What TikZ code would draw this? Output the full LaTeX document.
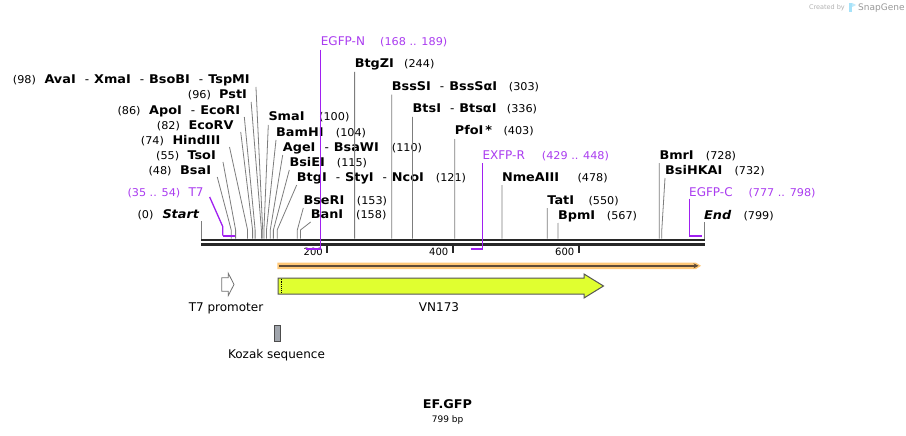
\documentclass[tikz,border=0pt]{standalone}
\usepackage{fontspec}
\setmainfont{DejaVu Sans}[BoldFeatures={FakeStretch=1.07},BoldItalicFeatures={FakeStretch=1.07}]
\newfontfamily\numfam{DejaVu Sans}[FakeStretch=1.05]
\usetikzlibrary{calc,arrows.meta}
\definecolor{primer}{RGB}{160,32,240}
\definecolor{primertxt}{RGB}{170,60,240}
\definecolor{cutline}{RGB}{125,125,125}
\definecolor{bb}{RGB}{40,40,40}
\definecolor{orf}{RGB}{255,200,120}
\definecolor{orfline}{RGB}{95,75,55}
\definecolor{feat}{RGB}{224,255,48}
\definecolor{featedge}{RGB}{85,85,85}
\definecolor{kozak}{RGB}{160,165,172}
\newcommand\fnm{\fontsize{12}{14}\selectfont\bfseries}
\newcommand\fnum{\numfam\fontsize{10.7}{13}\selectfont}
\newcommand\fpr{\fontsize{12}{14}\selectfont}
\newcommand\sepx{\hspace{9pt}{\mdseries-}\hspace{5pt}}
% left-labelled enzyme: id, baseline, num x, num, name x, name, line x-offset, site
\newcommand\enzL[8]{%
  \node[lbl,font=\fnum] (#1n) at (#3,#2) {#4};
  \node[lbl,font=\fnm] (#1) at (#5,#2) {#6};
  \pgfmathsetmacro\sx{201+0.6295*#8}
  \coordinate (#1s) at (\sx,238.7);
  \draw[cut] ($(#1.base east)+(#7,3)$) -- (\sx,230) -- (#1s);
}
% right-labelled enzyme: id, baseline, name x, name, num x, num, site
\newcommand\enzR[7]{%
  \node[lbl,font=\fnm] (#1) at (#3,#2) {#4};
  \node[lbl,font=\fnum] (#1n) at (#5,#2) {#6};
  \pgfmathsetmacro\sx{201+0.6295*#7}
  \coordinate (#1s) at (\sx,238.7);
  \draw[cut] ($(#1.base west)+(0,4)$) -- (\sx,230) -- (#1s);
}
\begin{document}
\begin{tikzpicture}[x=1pt,y=-1pt,
  lbl/.style={inner sep=0pt,anchor=base west},
  cut/.style={draw=cutline,line width=0.8pt},
  prim/.style={draw=primer,line width=1.3pt},
  primbar/.style={draw=primer,line width=2pt},
  bbline/.style={draw=bb,line width=2.6pt},
  tickbar/.style={draw=bb,line width=2pt},
  ticklbl/.style={inner sep=0pt,anchor=base east,font=\fontsize{10}{12}\selectfont},
  featlbl/.style={inner sep=0pt,anchor=base,font=\fontsize{12}{14}\selectfont}]
\fill[white] (0,0) rectangle (906,436);
\useasboundingbox (0,0) rectangle (906,436);

% watermark
\node[inner sep=0pt,anchor=base east,font=\fontsize{6.5}{8}\selectfont,text=black!30] (wm1) at (845,10) {Created by};
\fill[cyan!35] (849,3) rectangle (852,12);
\fill[cyan!25] (852,3) -- (856,5) -- (852,7) -- cycle;
\node[inner sep=0pt,anchor=base west,font=\fontsize{9}{10}\selectfont,text=black!40] (wm2) at (858,11) {SnapGene};

% backbone
\coordinate (bbL1) at (201,240); \coordinate (bbR1) at (705,240);
\coordinate (bbL2) at (201,244.3); \coordinate (bbR2) at (705,244.3);
\draw[bbline] (bbL1) -- (bbR1);
\draw[bbline] (bbL2) -- (bbR2);

% ticks
\coordinate (t200) at (326.9,245); \coordinate (t400) at (452.8,245); \coordinate (t600) at (578.7,245);
\draw[tickbar] (t200) -- ++(0,7.5);
\draw[tickbar] (t400) -- ++(0,7.5);
\draw[tickbar] (t600) -- ++(0,7.5);
\node[ticklbl] (l200) at (323,255) {200};
\node[ticklbl] (l400) at (448.5,255) {400};
\node[ticklbl] (l600) at (574.5,255) {600};

% left-labelled enzymes
\enzL{ava}{84}{12.7}{(98)}{44.3}{AvaI\sepx XmaI\sepx BsoBI\sepx TspMI}{6}{98}
\enzL{pst}{99}{187.7}{(96)}{219}{PstI}{4}{96}
\enzL{apo}{114}{117.3}{(86)}{149}{ApoI\sepx EcoRI}{4}{86}
\enzL{ecorv}{129}{156.7}{(82)}{188.3}{EcoRV}{7}{82}
\enzL{hind}{144}{140.7}{(74)}{172.3}{HindIII}{9}{74}
\enzL{tso}{159}{156}{(55)}{187.3}{TsoI}{7}{55}
\enzL{bsa}{174}{148.3}{(48)}{180}{BsaI}{6}{48}

% right-labelled enzymes
\enzR{sma}{121}{268.3}{SmaI}{319}{(100)}{100}
\enzR{bam}{136}{276}{BamHI}{335.7}{(104)}{104}
\enzR{age}{151}{282.7}{AgeI\sepx BsaWI}{391.7}{(110)}{110}
\enzR{bsie}{166}{289.3}{BsiEI}{336.7}{(115)}{115}
\enzR{btgi}{181}{296.7}{BtgI\sepx StyI\sepx NcoI}{435.7}{(121)}{121}
\enzR{bseri}{204}{303.3}{BseRI}{356.7}{(153)}{153}
\enzR{ban}{218}{310.7}{BanI}{356}{(158)}{158}
\enzR{btgz}{68}{354.6}{BtgZI}{404}{(244)}{244}
\enzR{bsss}{90.7}{391.7}{BssSI\sepx BssSαI}{508.7}{(303)}{303}
\enzR{bts}{113}{412.5}{BtsI\sepx BtsαI}{506.7}{(336)}{336}
\enzR{pfo}{135}{454.7}{PfoI\hspace{2pt}*}{503.3}{(403)}{403}
\enzR{nme}{181}{501.9}{NmeAIII}{577.3}{(478)}{478}
\enzR{tat}{204}{547.2}{TatI}{588.3}{(550)}{550}
\enzR{bpm}{219}{557.9}{BpmI}{606.7}{(567)}{567}
\enzR{bmr}{159}{659.3}{BmrI}{705.7}{(728)}{728}
\enzR{bsihk}{174}{665}{BsiHKAI}{734.3}{(732)}{732}

% Start / End
\node[lbl,font=\fnum] (startn) at (137.3,218) {(0)};
\node[lbl,font=\fnm\itshape] (start) at (162.3,218) {Start};
\coordinate (s0top) at (201,221); \coordinate (s0) at (201,238.7);
\draw[cut] (s0top) -- (s0);
\node[lbl,font=\fnm\itshape] (endl) at (704,219) {End};
\node[lbl,font=\fnum] (endn) at (743.3,219) {(799)};
\coordinate (s799) at (704,238.7);
\draw[cut] ($(endl.base west)+(0,3)$) -- (s799);

% primers
\node[lbl,font=\fnum,text=primertxt] (t7n) at (127.3,196) {(35 .. 54)};
\node[lbl,font=\fpr,text=primertxt] (t7) at (188.3,196) {T7};
\coordinate (t7a) at (222.8,235.7); \coordinate (t7b) at (234.5,235.7);
\draw[prim] ($(t7.base east)+(6,1)$) -- (222.8,226.7) -- (t7a);
\draw[primbar] (t7a) -- (t7b);

\node[lbl,font=\fpr,text=primertxt] (egfpn) at (320.7,45.7) {EGFP-N};
\node[lbl,font=\fnum,text=primertxt] (egfpnn) at (380,45.7) {(168 .. 189)};
\coordinate (ena) at (305.5,249); \coordinate (enb) at (320.7,249);
\draw[prim] ($(egfpn.base west)+(0,4)$) -- (enb);
\draw[primbar] (ena) -- (enb);

\node[lbl,font=\fpr,text=primertxt] (exfpr) at (482.3,159) {EXFP-R};
\node[lbl,font=\fnum,text=primertxt] (exfprn) at (541.7,159) {(429 .. 448)};
\coordinate (exa) at (470.5,249); \coordinate (exb) at (482.7,249);
\draw[prim] ($(exfpr.base west)+(0.4,4)$) -- (exb);
\draw[primbar] (exa) -- (exb);

\node[lbl,font=\fpr,text=primertxt] (egfpc) at (689,196) {EGFP-C};
\node[lbl,font=\fnum,text=primertxt] (egfpcn) at (748.3,196) {(777 .. 798)};
\coordinate (eca) at (689.3,236); \coordinate (ecb) at (701.8,236);
\draw[prim] ($(egfpc.base west)+(0.3,2.5)$) -- (eca);
\draw[primbar] (eca) -- (ecb);

% ORF arrow
\fill[orf] (277.3,262.7) -- (696,262.7) -- (701,265.8) -- (696,269) -- (277.3,269) -- cycle;
\coordinate (orfA) at (279,265.8); \coordinate (orfB) at (698.5,265.8);
\draw[orfline,line width=2pt,-{Stealth[length=5pt,width=5pt]}] (orfA) -- (orfB);

% VN173 feature
\draw[featedge,fill=feat,line width=1pt] (278,278) -- (584,278) -- (584,274) -- (603.5,286) -- (584,298) -- (584,294) -- (278,294) -- cycle;
\draw[black,densely dotted,line width=0.9pt] (281.7,278.6) -- (281.7,293.4);
\node[featlbl] (vn) at (439,311.7) {VN173};

% T7 promoter
\draw[black!55,fill=white,line width=0.8pt] (221.7,277.7) -- (228.3,277.7) -- (228.3,273.3) -- (234,284.5) -- (228.3,295.5) -- (228.3,291.2) -- (221.7,291.2) -- cycle;
\node[featlbl] (t7p) at (226,311.7) {T7 promoter};

% Kozak
\draw[black!70,fill=kozak,line width=0.8pt] (274.5,325.5) rectangle (280.3,341.5);
\node[featlbl] (koz) at (276.5,358) {Kozak sequence};

% title
\node[inner sep=0pt,anchor=base,font=\fontsize{12}{14}\selectfont\bfseries] (title) at (447.5,408.3) {EF.GFP};
\node[inner sep=0pt,anchor=base,font=\fontsize{9}{11}\selectfont] (bp) at (447.7,422.7) {799 bp};
\end{tikzpicture}
\end{document}
